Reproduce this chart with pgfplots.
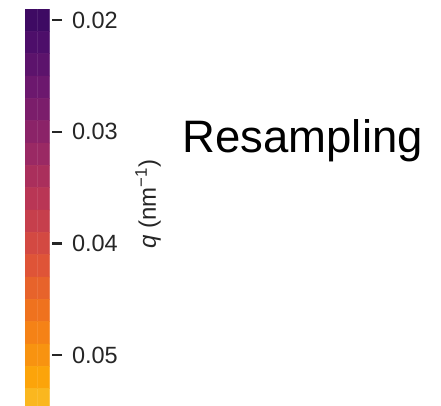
\documentclass[border=0pt]{standalone}
\usepackage{pgfplots}
\pgfplotsset{compat=1.18}
\usepackage{pgfplotstable}
\usepackage{fontspec}
\setmainfont{Liberation Sans}
\setsansfont{Liberation Sans}
\definecolor{tickc}{HTML}{262626}
\pgfplotsset{colormap={inferno}{
  rgb255=(0,0,4) rgb255=(22,11,57) rgb255=(66,10,104) rgb255=(106,23,110)
  rgb255=(147,38,103) rgb255=(188,55,84) rgb255=(221,81,58) rgb255=(243,120,25)
  rgb255=(252,165,10) rgb255=(246,215,70) rgb255=(252,255,164)}}
\pgfplotstableread{
x y
0 0.020
1 0.020
0 0.022
1 0.022
0 0.024
1 0.024
0 0.026
1 0.026
0 0.028
1 0.028
0 0.030
1 0.030
0 0.032
1 0.032
0 0.034
1 0.034
0 0.036
1 0.036
0 0.038
1 0.038
0 0.040
1 0.040
0 0.042
1 0.042
0 0.044
1 0.044
0 0.046
1 0.046
0 0.048
1 0.048
0 0.050
1 0.050
0 0.052
1 0.052
0 0.054
1 0.054
}\cbdata
\begin{document}
\begin{tikzpicture}
\path[use as bounding box] (0,0) rectangle (441pt,405pt);
\begin{axis}[
  at={(25pt,-6pt)}, anchor=south west,
  scale only axis, width=24.5pt, height=402pt,
  xmin=-0.5, xmax=1.5, ymin=0.019, ymax=0.055,
  y dir=reverse,
  axis line style={draw=none},
  xtick=\empty,
  ytick={0.02,0.03,0.04,0.05},
  scaled y ticks=false,
  ytick pos=right,
  yticklabel pos=right,
  tick align=outside,
  major tick length=10pt,
  y tick style={tickc, line width=2.2pt, xshift=2.5pt},
  /pgf/number format/assume math mode=true,
  yticklabel style={/pgf/number format/fixed, /pgf/number format/precision=2,
    /pgf/number format/fixed zerofill, font=\fontsize{23.5}{23.5}\selectfont, text=tickc, xshift=9pt},
  colormap name=inferno,
  point meta min=0.01, point meta max=0.06263,
]
\addplot[matrix plot*, mesh/cols=2, point meta=\thisrow{y}] table[x=x,y=y] {\cbdata};
\end{axis}
\node[rotate=90, font=\fontsize{24}{24}\selectfont, text=tickc] at (148pt,201pt) {\textit{q} (nm\textsuperscript{−1})};
\node[anchor=base west, font=\fontsize{45.5}{45.5}\selectfont] at (179pt,253pt) {Resampling};
\end{tikzpicture}
\end{document}
